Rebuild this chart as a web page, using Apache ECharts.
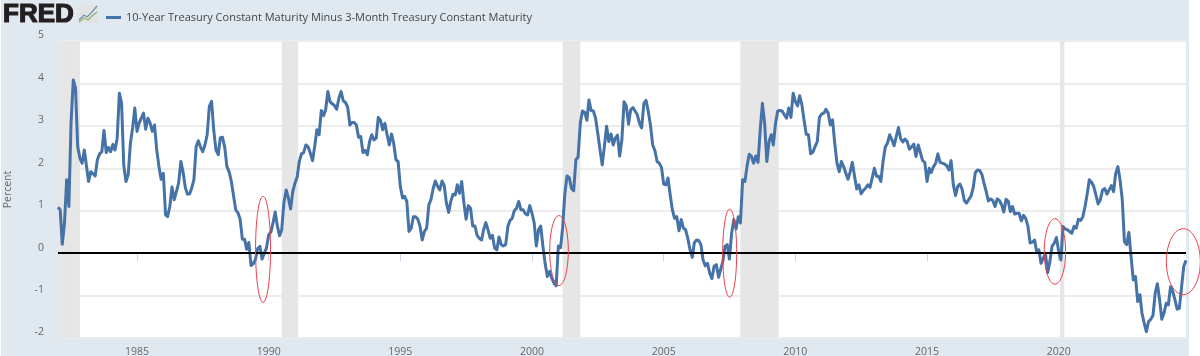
<!DOCTYPE html>
<html>
<head>
<meta charset="utf-8">
<style>html,body{margin:0;padding:0;background:#fff}#chart{width:1200px;height:356px}</style>
<script src="https://cdn.jsdelivr.net/npm/echarts@6/dist/echarts.min.js"></script>
</head>
<body>
<div id="chart"></div>
<script>
var seriesName = '10-Year Treasury Constant Maturity Minus 3-Month Treasury Constant Maturity';
var yTicks = [-2, -1, 0, 1, 2, 3, 4, 5];
var xTicks = ['1985-01-01', '1990-01-01', '1995-01-01', '2000-01-01', '2005-01-01', '2010-01-01', '2015-01-01', '2020-01-01'];
var firstYear = 1982;

// monthly values
var values1982 = [1.08, 1.02, .21, .71, 1.73, 1.1, 3.08, 4.08, 3.89, 2.51, 2.24, 2.12,
  2.43, 2.04, 1.69, 1.92, 1.87, 1.82, 2.2, 2.34, 2.39, 2.89, 2.37, 2.49,
  2.39, 2.56, 2.43, 2.71, 3.77, 3.53, 2.07, 1.69, 1.85, 2.59, 2.95, 3.42,
  2.87, 3.07, 3.18, 3.3, 2.92, 3.18, 3.07, 2.87, 3.02, 2.44, 2.04, 1.74,
  1.88, .9, .86, 1.1, 1.56, 1.26, 1.45, 1.65, 2.16, 1.92, 1.55, 1.39,
  1.4, 1.55, 1.73, 2.51, 2.65, 2.5, 2.39, 2.55, 2.79, 3.46, 3.58, 2.9,
  2.43, 2.32, 2.72, 2.73, 2.5, 2.04, 1.92, 1.69, 1.35, 1.02, .95, .8,
  .33, .33, .09, .25, -.29, -.25, -.15, .11, .16, -.14, 0, .12];
var values1990 = [.43, .5, .7, .97, .65, .41, .55, 1.2, 1.49, 1.3, 1.04, 1.45,
  1.65, 1.8, 2.16, 2.34, 2.37, 2.55, 2.51, 2.36, 2.18, 2.51, 2.91, 2.79,
  3.36, 3.24, 3.38, 3.81, 3.57, 3.52, 3.48, 3.39, 3.65, 3.81, 3.59, 3.55,
  3.44, 3.02, 3.08, 3.08, 3.02, 2.73, 2.75, 2.37, 2.42, 2.32, 2.63, 2.79,
  2.67, 2.71, 3.2, 3.13, 2.91, 3.06, 2.79, 2.55, 2.81, 2.59, 2.2, 2.16,
  1.57, 1.3, 1.34, 1.22, .51, .59, .86, .86, .8, .63, .31, .51,
  .59, 1.14, 1.26, 1.53, 1.7, 1.57, 1.49, 1.7, 1.59, 1.18, .96, 1.22,
  1.39, 1.37, 1.61, 1.41, 1.69, 1.18, .8, 1.12, 1.06, .64, .64, .42,
  .35, .31, .55, .72, .55, .35, .42, .12, .08, .38, .2, .17,
  .2, .63, .77, .82, 1.0, 1.06, 1.22, 1.02, 1.02, .93, .9, 1.12];
var values2000 = [.94, .71, .17, .55, .64, .16, -.24, -.55, -.43, -.59, -.71, -.77,
  .17, .13, .6, 1.41, 1.82, 1.78, 1.53, 1.47, 2.2, 2.26, 3.06, 3.35,
  3.32, 3.13, 3.61, 3.36, 3.35, 3.18, 2.83, 2.44, 2.08, 2.51, 2.99, 2.63,
  2.81, 2.55, 2.71, 2.78, 2.29, 2.67, 3.57, 3.47, 3.04, 3.38, 3.43, 3.35,
  3.26, 3.06, 2.95, 3.53, 3.6, 3.34, 3.02, 2.55, 2.42, 2.16, 2.12, 2.02,
  1.63, 1.61, 1.77, 1.37, 1.02, .82, .86, .53, .79, .59, .55, .35,
  .08, -.1, .24, .31, .3, .2, -.16, -.3, -.24, -.47, -.6, -.31,
  -.27, -.57, -.39, -.2, .16, .2, -.14, .47, .79, .57, .86, .71,
  1.73, 1.69, 2.04, 2.33, 2.28, 2.12, 2.29, 2.14, 2.91, 3.53, 3.06, 2.16,
  2.63, 2.79, 2.55, 3.06, 3.35, 3.36, 3.35, 3.26, 3.18, 3.42, 3.2, 3.77];
var values2010 = [3.57, 3.47, 3.71, 3.5, 3.14, 2.8, 2.79, 2.34, 2.38, 2.51, 2.63, 3.2,
  3.28, 3.3, 3.39, 3.3, 3.02, 3.14, 2.59, 2.12, 1.92, 2.16, 2.04, 1.89,
  1.74, 1.92, 2.14, 1.81, 1.51, 1.61, 1.4, 1.48, 1.53, 1.61, 1.55, 1.77,
  2.0, 1.81, 1.81, 1.69, 2.16, 2.5, 2.59, 2.79, 2.67, 2.53, 2.75, 2.96,
  2.69, 2.62, 2.69, 2.63, 2.45, 2.51, 2.57, 2.28, 2.55, 2.37, 2.18, 2.14,
  1.69, 2.0, 1.9, 2.04, 2.12, 2.34, 2.14, 2.12, 2.1, 2.06, 1.96, 2.18,
  1.61, 1.36, 1.57, 1.63, 1.51, 1.24, 1.18, 1.26, 1.34, 1.53, 1.9, 1.96,
  1.95, 1.85, 1.65, 1.45, 1.23, 1.28, 1.24, 1.1, 1.28, 1.24, 1.14, .97,
  1.27, 1.22, .98, 1.1, .92, .94, .94, .76, .89, .82, .63, .24,
  .26, .31, .04, .08, -.24, -.12, 0, -.46, -.2, .16, .24, .37];
var values2020 = [.04, -.16, .63, .57, .55, .51, .47, .63, .59, .8, .77, .86,
  1.1, 1.41, 1.73, 1.67, 1.57, 1.37, 1.16, 1.26, 1.49, 1.52, 1.39, 1.49,
  1.59, 1.45, 1.87, 2.04, 1.73, 1.26, .27, .2, .49, -.08, -.63, -.55,
  -1.14, -.98, -1.41, -1.65, -1.85, -1.61, -1.56, -1.47, -.94, -.72, -1.1, -1.56,
  -1.41, -1.18, -1.22, -.79, -.9, -1.1, -1.32, -1.3, -.79, -.31, -.17];
var spread = values1982.concat(values1990, values2000, values2010, values2020);

var recessionStart = ['1982-01-01', '1990-07-01', '2001-03-01', '2007-12-01', '2020-01-20'];
var recessionEnd = ['1982-11-01', '1991-02-15', '2001-11-01', '2009-05-15', '2020-03-20'];

// hand drawn red rings: [date, value] of the centre
var ringCentres = [['1989-10-15', .09], ['2001-01-10', .06], ['2007-07-05', 0], ['2019-11-10', .04], ['2024-09-25', -.2]];
var ringRx = [7.5, 9.3, 7, 10.7, 17];
var ringRy = [53, 35, 44, 32.7, 33];

var points = spread.map(function (v, i) {
  var year = firstYear + Math.floor(i / 12);
  var month = i % 12 + 1;
  return [year + '-' + (month < 10 ? '0' : '') + month + '-01', v];
});

var chart = echarts.init(document.getElementById('chart'));
chart.setOption({
  animation: false,
  backgroundColor: '#fff',
  textStyle: { fontFamily: '"Open Sans"' },
  graphic: [
    { type: 'rect', z: -10, shape: { x: 1, y: 0, width: 1188, height: 356 }, style: { fill: '#e1e9f0' } },
    { type: 'text', x: 3, y: 2, style: { text: 'FRED', font: '900 26px "Liberation Sans"', fill: '#231f20', stroke: '#231f20', lineWidth: 1.2 } },
    { type: 'rect', shape: { x: 78, y: 5, width: 20, height: 18 }, style: { fill: '#e2e4e4' } },
    { type: 'polyline', shape: { points: [[79, 20], [84, 15], [87, 17], [92, 12], [97, 6]] }, style: { stroke: '#6f93ad', lineWidth: 1.2, fill: null } },
    { type: 'polyline', shape: { points: [[79, 22], [84, 18], [88, 20], [92, 16], [97, 12]] }, style: { stroke: '#8fb36a', lineWidth: 1.2, fill: null } }
  ],
  legend: {
    data: [seriesName],
    left: 101,
    top: 7,
    icon: 'rect',
    itemWidth: 15,
    itemHeight: 3,
    itemGap: 5,
    selectedMode: false,
    textStyle: { color: '#444', fontSize: 11, fontFamily: '"Open Sans"' }
  },
  grid: { left: 58, right: 14, top: 41, bottom: 18, show: true, backgroundColor: '#fff', borderWidth: 0, outerBoundsMode: 'none' },
  xAxis: {
    type: 'time',
    min: '1982-01-01',
    max: '2024-11-01',
    axisLine: { lineStyle: { color: '#ccd6eb' } },
    axisTick: { customValues: xTicks, length: 8, lineStyle: { color: '#ccd6eb' } },
    axisLabel: { customValues: xTicks, formatter: '{yyyy}', color: '#666', fontSize: 10.5, margin: 9 },
    splitLine: { show: false }
  },
  yAxis: {
    type: 'value',
    min: yTicks[0],
    max: yTicks[yTicks.length - 1],
    interval: 1,
    name: 'Percent',
    nameLocation: 'middle',
    nameGap: 44,
    nameTextStyle: { color: '#666', fontSize: 10.5 },
    axisLine: { show: false },
    axisTick: { show: false },
    axisLabel: { color: '#666', fontSize: 10.5, margin: 14, verticalAlign: 'bottom' },
    splitLine: { lineStyle: { color: '#ececec', width: 2 } }
  },
  series: [
    {
      name: seriesName,
      type: 'line',
      data: points,
      showSymbol: false,
      symbol: 'none',
      z: 3,
      itemStyle: { color: '#4572a7' },
      lineStyle: { color: '#4572a7', width: 3, join: 'round' },
      markArea: {
        silent: true,
        z: 1,
        itemStyle: { color: '#e6e6e6' },
        data: recessionStart.map(function (d, i) { return [{ xAxis: d }, { xAxis: recessionEnd[i] }]; })
      },
      markLine: {
        silent: true,
        symbol: 'none',
        z: 4,
        label: { show: false },
        lineStyle: { color: '#000', width: 2, type: 'solid' },
        data: [{ yAxis: 0 }]
      }
    },
    {
      type: 'custom',
      clip: false,
      z: 5,
      silent: true,
      data: ringCentres,
      encode: { x: 0, y: 1 },
      renderItem: function (params, api) {
        var c = api.coord([api.value(0), api.value(1)]);
        return {
          type: 'ellipse',
          shape: { cx: c[0], cy: c[1], rx: ringRx[params.dataIndex], ry: ringRy[params.dataIndex] },
          style: { fill: null, stroke: '#ea3f4a', lineWidth: 1 }
        };
      }
    }
  ]
});
</script>
</body>
</html>
